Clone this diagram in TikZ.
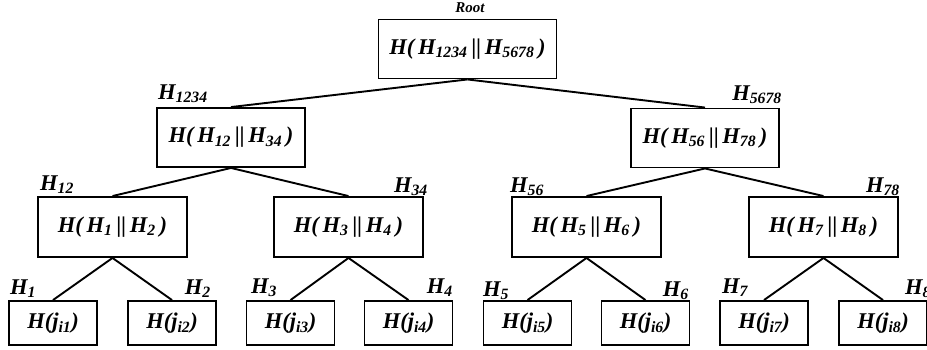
\documentclass[tikz,border=0pt]{standalone}
\usepackage{fontspec}
\setmainfont{Liberation Serif}
\newcommand{\sbs}[1]{\textsubscript{#1}}
\newcommand{\dbar}{\,{\upshape||}\,}
\tikzset{
  hbox/.style={draw, line width=1.9pt, rectangle, inner sep=0pt,
    font=\fontsize{22.5}{26}\selectfont\bfseries\itshape},
  lbl/.style={inner sep=0pt, font=\fontsize{22.5}{26}\selectfont\bfseries\itshape},
  conn/.style={line width=1.9pt},
  lvlzero/.style={hbox, minimum width=178pt, minimum height=59pt},
  lvlone/.style={hbox, minimum width=148pt, minimum height=59pt},
  lvltwo/.style={hbox, minimum width=149pt, minimum height=60pt},
  leaf/.style={hbox, minimum width=88pt, minimum height=44pt},
}
\begin{document}
\begin{tikzpicture}[x=1pt,y=-1pt]
\useasboundingbox (0,0) rectangle (927,349);
% root
\node[lvlzero] (r) at (467.5,49) {H(\,H\sbs{1234}\dbar H\sbs{5678}\,)};
\node[inner sep=0pt, anchor=base, font=\fontsize{15}{17}\selectfont\bfseries\itshape] (rl) at (470,12) {Root};
% level 1
\node[lvlone] (a) at (231,137.5) {H(\,H\sbs{12}\dbar H\sbs{34}\,)};
\node[lvlone] (b) at (705,138) {H(\,H\sbs{56}\dbar H\sbs{78}\,)};
% level 2
\node[lvltwo] (a1) at (112.5,227) {H(\,H\sbs{1}\dbar H\sbs{2}\,)};
\node[lvltwo] (a2) at (348.5,227) {H(\,H\sbs{3}\dbar H\sbs{4}\,)};
\node[lvltwo] (b1) at (586.5,227) {H(\,H\sbs{5}\dbar H\sbs{6}\,)};
\node[lvltwo] (b2) at (823.5,227) {H(\,H\sbs{7}\dbar H\sbs{8}\,)};
% leaves
\node[leaf] (l1) at (53,323) {H(\textit{j}\sbs{i1})};
\node[leaf] (l2) at (172,323) {H(\textit{j}\sbs{i2})};
\node[leaf] (l3) at (290.5,323) {H(\textit{j}\sbs{i3})};
\node[leaf] (l4) at (408.5,323) {H(\textit{j}\sbs{i4})};
\node[leaf] (l5) at (527.5,323) {H(\textit{j}\sbs{i5})};
\node[leaf] (l6) at (645.5,323) {H(\textit{j}\sbs{i6})};
\node[leaf] (l7) at (764,323) {H(\textit{j}\sbs{i7})};
\node[leaf] (l8) at (883,323) {H(\textit{j}\sbs{i8})};
% connectors
\draw[conn] (r.south) -- (a.north);
\draw[conn] (r.south) -- (b.north);
\draw[conn] (a.south) -- (a1.north);
\draw[conn] (a.south) -- (a2.north);
\draw[conn] (b.south) -- (b1.north);
\draw[conn] (b.south) -- (b2.north);
\draw[conn] (a1.south) -- (l1.north);
\draw[conn] (a1.south) -- (l2.north);
\draw[conn] (a2.south) -- (l3.north);
\draw[conn] (a2.south) -- (l4.north);
\draw[conn] (b1.south) -- (l5.north);
\draw[conn] (b1.south) -- (l6.north);
\draw[conn] (b2.south) -- (l7.north);
\draw[conn] (b2.south) -- (l8.north);
% hash labels
\node[lbl, anchor=base west] (t1234) at (158,99) {H\sbs{1234}};
\node[lbl, anchor=base east] (t5678) at (782,100) {H\sbs{5678}};
\node[lbl, anchor=base west] (t12) at (40,190) {H\sbs{12}};
\node[lbl, anchor=base east] (t34) at (428,192) {H\sbs{34}};
\node[lbl, anchor=base west] (t56) at (510,192) {H\sbs{56}};
\node[lbl, anchor=base east] (t78) at (900,192) {H\sbs{78}};
\node[lbl, anchor=base west] (t1) at (10,294) {H\sbs{1}};
\node[lbl, anchor=base east] (t2) at (211,294) {H\sbs{2}};
\node[lbl, anchor=base west] (t3) at (251,293) {H\sbs{3}};
\node[lbl, anchor=base east] (t4) at (453,293) {H\sbs{4}};
\node[lbl, anchor=base west] (t5) at (483,296) {H\sbs{5}};
\node[lbl, anchor=base east] (t6) at (689,296) {H\sbs{6}};
\node[lbl, anchor=base west] (t7) at (722,293) {H\sbs{7}};
\node[lbl, anchor=base west] (t8) at (905,294) {H\sbs{8}};
\end{tikzpicture}
\end{document}
